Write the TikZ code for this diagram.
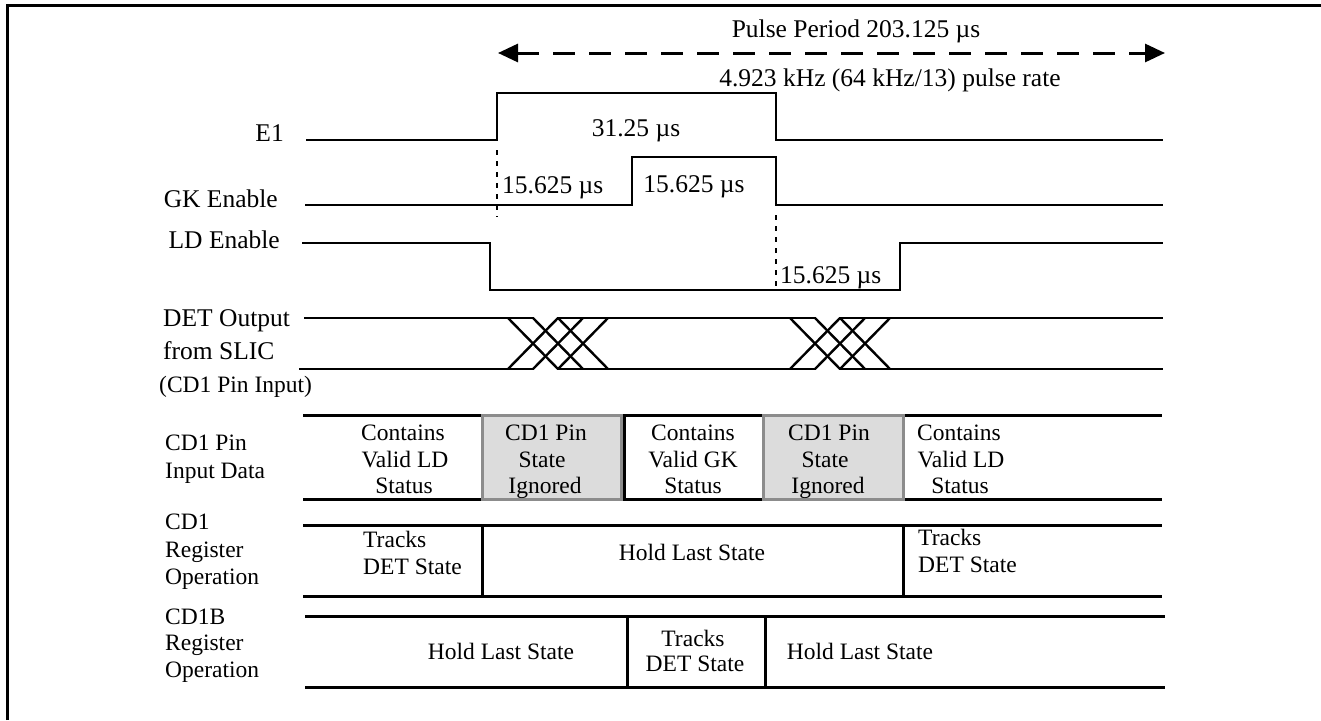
\documentclass[tikz,border=0pt]{standalone}
\usepackage{fontspec}
\setmainfont{Liberation Serif}
\usetikzlibrary{arrows.meta}
\definecolor{boxgray}{HTML}{DCDCDC}
\definecolor{boxedge}{HTML}{8C8C8C}
\begin{document}
\begin{tikzpicture}[x=1pt,y=-1pt,
  sig/.style={line width=2.8pt, line join=miter, line cap=rect},
  frame/.style={line width=3pt},
  rowline/.style={line width=3pt},
  dotline/.style={line width=2.4pt, dash pattern=on 5pt off 6pt},
  lab/.style={font=\fontsize{25.5}{28}\selectfont, inner sep=0pt, text height=17pt, text depth=0pt},
  tb/.style={font=\fontsize{23.5}{26}\selectfont, inner sep=0pt, text height=15.5pt, text depth=0pt},
  ignbox/.style={draw=boxedge, fill=boxgray, line width=3pt}
]
\useasboundingbox (0,0) rectangle (1321,720);
% frame
\draw[frame] (7,720) -- (7,5.5) -- (1321,5.5);

% period arrow
\node[lab] (period) at (856,29) {Pulse Period 203.125 µs};
\coordinate (al) at (498,53);
\coordinate (ar) at (1165,53);
\draw[line width=3pt, dash pattern=on 22pt off 14pt,
  {Triangle[length=20pt,width=18pt]}-{Triangle[length=20pt,width=18pt]}] (al) -- (ar);
\node[lab] (rate) at (890,78) {4.923 kHz (64 kHz/13) pulse rate};

% E1
\node[lab, anchor=east] (e1) at (284,133) {E1};
\draw[sig] (307,140) -- (497,140) -- (497,93) -- (776,93) -- (776,140) -- (1162,140);
\node[lab] (t3125) at (636,128) {31.25 µs};
\draw[dotline] (497,150) -- (497,217);
\node[lab, anchor=west] (tgk1) at (502,185) {15.625 µs};

% GK
\node[lab, anchor=east] (gk) at (278,199) {GK Enable};
\draw[sig] (306,205) -- (632,205) -- (632,157) -- (776,157) -- (776,205) -- (1162,205);
\node[lab] (tgk2) at (694,184) {15.625 µs};

% LD
\node[lab, anchor=east] (ld) at (280,240) {LD Enable};
\draw[sig] (303,243) -- (490,243) -- (490,290) -- (900,290) -- (900,243) -- (1162,243);
\draw[dotline] (776,215) -- (776,290);
\node[lab, anchor=west] (tld) at (780,275) {15.625 µs};

% DET
\node[lab, anchor=west] (det1) at (163,318) {DET Output};
\node[lab, anchor=west] (det2) at (163,351) {from SLIC};
\node[tb, anchor=west] (det3) at (159,385) {(CD1 Pin Input)};
\draw[sig] (305,318) -- (533,318);
\draw[sig] (558,318) -- (815,318);
\draw[sig] (840,318) -- (1162,318);
\draw[sig] (300,369) -- (533,369);
\draw[sig] (558,369) -- (815,369);
\draw[sig] (840,369) -- (1162,369);
\foreach \p in {508,790}{
  \draw[line width=2.4pt] (\p,318) -- (\p+50,369);
  \draw[line width=2.4pt] (\p+50,318) -- (\p,369);
  \draw[line width=2.4pt] (\p+25,318) -- (\p+75,369);
  \draw[line width=2.4pt] (\p+75,318) -- (\p+25,369);
  \draw[line width=2.4pt] (\p+50,318) -- (\p+100,369);
  \draw[line width=2.4pt] (\p+100,318) -- (\p+50,369);
}

% Row 1: CD1 Pin Input Data
\node[tb, anchor=west] (r1a) at (165,443) {CD1 Pin};
\node[tb, anchor=west] (r1b) at (165,471) {Input Data};
\draw[rowline] (303,415) -- (1162,415);
\draw[rowline] (303,499) -- (1162,499);
\draw[rowline] (624,415) -- (624,499);
\draw[ignbox] (482,415) rectangle (621,499);
\draw[ignbox] (763,415) rectangle (903,499);
\node[tb] (c1a) at (403,433) {Contains};
\node[tb] (c1b) at (405,460) {Valid LD};
\node[tb] (c1c) at (404,486) {Status};
\node[tb] (c2a) at (546,433) {CD1 Pin};
\node[tb] (c2b) at (542,460) {State};
\node[tb] (c2c) at (545,486) {Ignored};
\node[tb] (c3a) at (693,433) {Contains};
\node[tb] (c3b) at (693,460) {Valid GK};
\node[tb] (c3c) at (693,486) {Status};
\node[tb] (c4a) at (829,433) {CD1 Pin};
\node[tb] (c4b) at (825,460) {State};
\node[tb] (c4c) at (828,486) {Ignored};
\node[tb] (c5a) at (959,433) {Contains};
\node[tb] (c5b) at (961,460) {Valid LD};
\node[tb] (c5c) at (960,486) {Status};

% Row 2: CD1 Register Operation
\node[tb, anchor=west] (r2a) at (165,522) {CD1};
\node[tb, anchor=west] (r2b) at (165,550) {Register};
\node[tb, anchor=west] (r2c) at (165,577) {Operation};
\draw[rowline] (303,525) -- (1162,525);
\draw[rowline] (303,596) -- (1162,596);
\draw[rowline] (482,525) -- (482,596);
\draw[rowline] (903,525) -- (903,596);
\node[tb, anchor=west] (d1a) at (363,540) {Tracks};
\node[tb, anchor=west] (d1b) at (363,567) {DET State};
\node[tb] (d2) at (692,553) {Hold Last State};
\node[tb, anchor=west] (d3a) at (918,538) {Tracks};
\node[tb, anchor=west] (d3b) at (918,565) {DET State};

% Row 3: CD1B Register Operation
\node[tb, anchor=west] (r3a) at (165,617) {CD1B};
\node[tb, anchor=west] (r3b) at (165,643) {Register};
\node[tb, anchor=west] (r3c) at (165,670) {Operation};
\draw[rowline] (305,616) -- (1165,616);
\draw[rowline] (305,687) -- (1165,687);
\draw[rowline] (627,616) -- (627,687);
\draw[rowline] (765,616) -- (765,687);
\node[tb] (e1h) at (501,652) {Hold Last State};
\node[tb] (e2a) at (693,639) {Tracks};
\node[tb] (e2b) at (695,664) {DET State};
\node[tb] (e3h) at (860,652) {Hold Last State};
\end{tikzpicture}
\end{document}
